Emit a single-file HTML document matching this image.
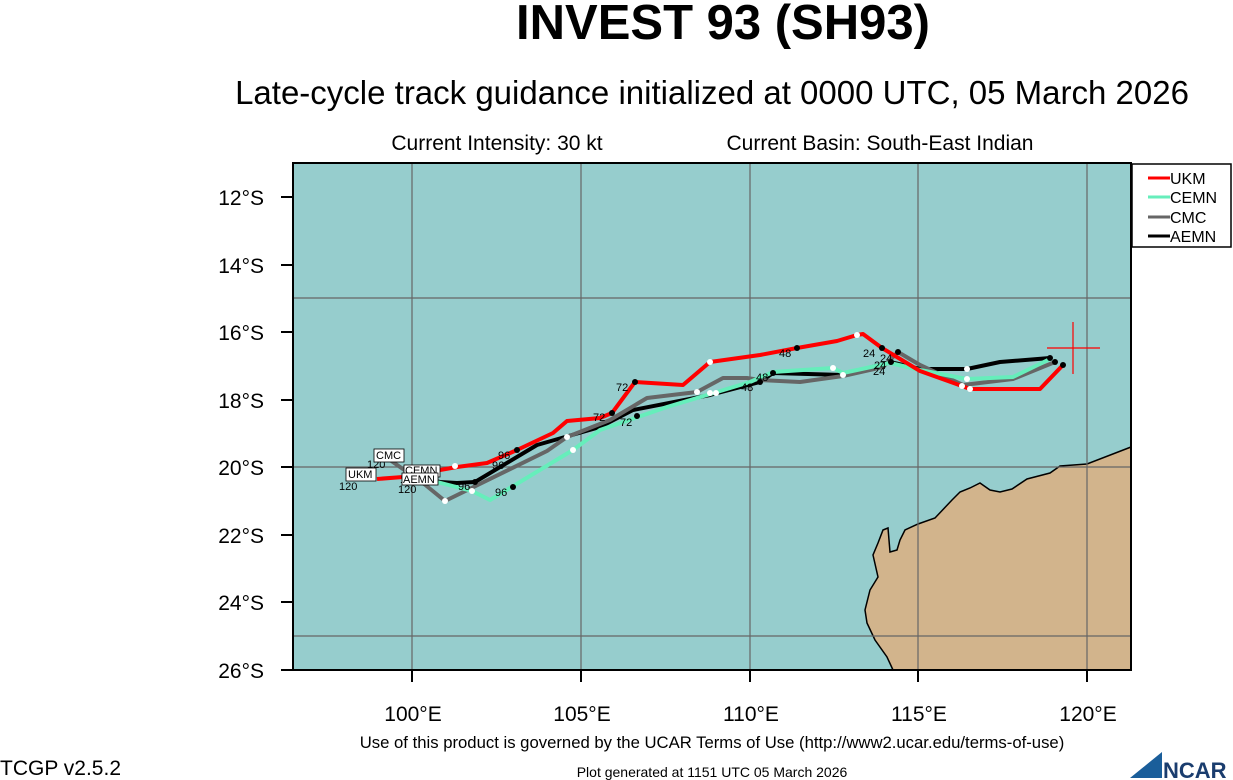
<!DOCTYPE html><html><head><style>body{margin:0;background:#fff;width:1233px;height:780px;overflow:hidden}svg{display:block;font-family:"Liberation Sans",Arial,sans-serif}</style></head><body>
<svg width="1233" height="780" viewBox="0 0 1233 780">
<text x="723" y="39" font-size="49" font-weight="bold" text-anchor="middle">INVEST 93 (SH93)</text>
<text x="712" y="104" font-size="33" text-anchor="middle">Late-cycle track guidance initialized at 0000 UTC, 05 March 2026</text>
<text x="497" y="150" font-size="21" text-anchor="middle">Current Intensity: 30 kt</text>
<text x="880" y="150" font-size="21" text-anchor="middle">Current Basin: South-East Indian</text>
<rect x="293" y="163" width="838" height="507" fill="#96cdcd"/>
<path d="M1131,447 L1087,464 L1060,466 L1050,473 L1027,479 L1012,489 L1000,492 L990,490 L980,483 L970,488 L960,492 L952,500 L935,518 L918,524 L905,530 L900,540 L897,550 L890,552 L888,528 L883,530 L878,543 L873,555 L878,577 L870,590 L865,610 L867,623 L875,640 L887,657 L893,670 L1131,670 Z" fill="#d2b48c" stroke="#000" stroke-width="1.5"/>
<g stroke="#666" stroke-width="1.2">
<line x1="412" y1="163" x2="412" y2="670"/><line x1="581" y1="163" x2="581" y2="670"/><line x1="750" y1="163" x2="750" y2="670"/><line x1="918" y1="163" x2="918" y2="670"/><line x1="1087" y1="163" x2="1087" y2="670"/>
<line x1="293" y1="298" x2="1131" y2="298"/><line x1="293" y1="467" x2="1131" y2="467"/><line x1="293" y1="636" x2="1131" y2="636"/>
</g>
<g fill="none" stroke-width="4" stroke-linejoin="round">
<polyline stroke="#000" points="1050,358 1000,362 967,369 920,369 890,362 843,375 773,373 760,382 710,395 633,410 600,427 537,445 475,482 457,483 440,482 417,477"/>
<polyline stroke="#666" points="1055,362 1013,379 963,385 920,365 898,352 883,367 843,376 800,382 760,380 747,378 723,378 697,392 647,398 610,420 567,437 547,451 445,501 423,483 390,460"/>
<polyline stroke="#66eebb" points="1050,359 1013,377 967,379 920,370 890,363 843,373 833,368 773,372 750,382 717,392 667,407 600,430 573,450 490,500 472,491 437,482 413,478"/>
<polyline stroke="#f00" points="1063,365 1040,389 970,389 962,386 920,371 882,348 863,334 857,335 837,341 797,348 760,355 710,362 683,385 635,382 612,413 600,418 567,421 553,433 517,450 487,463 457,467 440,470 403,477 377,479"/>
</g>
<g fill="#000"><circle cx="1063" cy="365" r="3"/><circle cx="1050" cy="358" r="3"/><circle cx="1055" cy="362" r="3"/><circle cx="882" cy="348" r="3"/><circle cx="898" cy="352" r="3"/><circle cx="891" cy="362" r="3"/><circle cx="797" cy="348" r="3"/><circle cx="773" cy="373" r="3"/><circle cx="760" cy="382" r="3"/><circle cx="635" cy="382" r="3"/><circle cx="612" cy="413" r="3"/><circle cx="637" cy="416" r="3"/><circle cx="517" cy="450" r="3"/><circle cx="475" cy="482" r="3"/><circle cx="513" cy="487" r="3"/></g>
<g fill="#fff"><circle cx="857" cy="335" r="3"/><circle cx="967" cy="369" r="3"/><circle cx="967" cy="379" r="3"/><circle cx="962" cy="386" r="3"/><circle cx="970" cy="389" r="3"/><circle cx="710" cy="362" r="3"/><circle cx="833" cy="368" r="3"/><circle cx="843" cy="375" r="3"/><circle cx="697" cy="392" r="3"/><circle cx="710" cy="393" r="3"/><circle cx="716" cy="393" r="3"/><circle cx="567" cy="437" r="3"/><circle cx="573" cy="450" r="3"/><circle cx="455" cy="466" r="3"/><circle cx="445" cy="501" r="3"/><circle cx="472" cy="491" r="3"/></g>
<g font-size="11">
<text x="779" y="357">48</text><text x="741" y="391">48</text><text x="756" y="381">48</text><text x="863" y="357">24</text><text x="880" y="362">24</text><text x="873" y="375">24</text><text x="874" y="369">24</text><text x="616" y="391">72</text><text x="593" y="421">72</text><text x="620" y="426">72</text><text x="498" y="459">96</text><text x="492" y="469">96</text><text x="458" y="490">96</text><text x="495" y="496">96</text>
<text x="339" y="490">120</text><text x="367" y="468">120</text><text x="398" y="493">120</text><text x="400" y="483">120</text>
</g>
<g font-size="11"><rect x="374" y="449" width="30" height="13" fill="#fff" stroke="#000" stroke-width=".8"/><text x="376" y="459">CMC</text>
<rect x="346" y="468" width="30" height="13" fill="#fff" stroke="#000" stroke-width=".8"/><text x="348" y="478">UKM</text>
<rect x="404" y="465" width="36" height="12" fill="#fff" stroke="#000" stroke-width=".8"/><text x="405" y="474">CEMN</text>
<rect x="402" y="473" width="36" height="12" fill="#fff" stroke="#000" stroke-width=".8"/><text x="403" y="483">AEMN</text></g>
<g stroke="#f00" stroke-width="1.2"><line x1="1047" y1="348" x2="1100" y2="348"/><line x1="1073" y1="322" x2="1073" y2="374"/></g>
<rect x="293" y="163" width="838" height="507" fill="none" stroke="#000" stroke-width="2"/>
<g stroke="#000" stroke-width="2"><line x1="281" y1="197" x2="293" y2="197"/><line x1="281" y1="265" x2="293" y2="265"/><line x1="281" y1="332" x2="293" y2="332"/><line x1="281" y1="400" x2="293" y2="400"/><line x1="281" y1="467" x2="293" y2="467"/><line x1="281" y1="535" x2="293" y2="535"/><line x1="281" y1="602" x2="293" y2="602"/><line x1="281" y1="670" x2="293" y2="670"/>
<line x1="412" y1="670" x2="412" y2="682"/><line x1="581" y1="670" x2="581" y2="682"/><line x1="750" y1="670" x2="750" y2="682"/><line x1="918" y1="670" x2="918" y2="682"/><line x1="1087" y1="670" x2="1087" y2="682"/></g>
<g font-size="21" text-anchor="end"><text x="264" y="205">12°S</text><text x="264" y="273">14°S</text><text x="264" y="340">16°S</text><text x="264" y="408">18°S</text><text x="264" y="475">20°S</text><text x="264" y="543">22°S</text><text x="264" y="610">24°S</text><text x="264" y="678">26°S</text></g>
<g font-size="21" text-anchor="middle"><text x="413" y="721">100°E</text><text x="582" y="721">105°E</text><text x="751" y="721">110°E</text><text x="919" y="721">115°E</text><text x="1088" y="721">120°E</text></g>
<rect x="1132" y="164" width="99" height="83" fill="#fff" stroke="#000" stroke-width="1.5"/>
<g stroke-width="3"><line x1="1148" y1="178" x2="1170" y2="178" stroke="#f00"/><line x1="1148" y1="197" x2="1170" y2="197" stroke="#66eebb"/><line x1="1148" y1="217" x2="1170" y2="217" stroke="#666"/><line x1="1148" y1="236" x2="1170" y2="236" stroke="#000"/></g>
<g font-size="16"><text x="1170" y="184">UKM</text><text x="1170" y="203">CEMN</text><text x="1170" y="223">CMC</text><text x="1170" y="242">AEMN</text></g>
<text x="712" y="748" font-size="16.7" text-anchor="middle">Use of this product is governed by the UCAR Terms of Use (http://www2.ucar.edu/terms-of-use)</text>
<text x="712" y="777" font-size="14" text-anchor="middle">Plot generated at 1151 UTC   05 March 2026</text>
<text x="0" y="775" font-size="21">TCGP v2.5.2</text>
<path d="M1130,778 L1162,752 L1162,778 Z" fill="#1a5e9a"/>
<text x="1163" y="778" font-size="22" font-weight="bold" fill="#1a3d6e">NCAR</text>
</svg></body></html>
